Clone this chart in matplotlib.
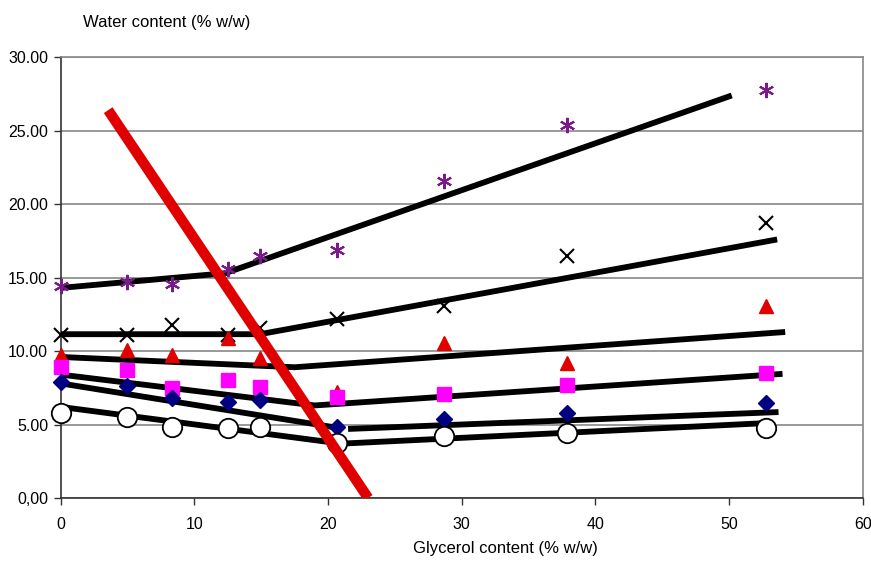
import matplotlib.pyplot as plt
from matplotlib.ticker import FixedLocator

plt.rcParams['font.family'] = ['Liberation Sans', 'DejaVu Sans']

# glycerol content of the samples (% w/w)
glycerol = [0, 4.95, 8.3, 12.5, 14.9, 20.7, 28.7, 37.9, 52.8]

# water content (% w/w) for each series
water_star = [14.4, 14.7, 14.6, 15.6, 16.5, 16.9, 21.6, 25.4, 27.8]
water_cross = [11.1, 11.1, 11.8, 11.1, 11.6, 12.2, 13.1, 16.5, 18.7]
water_triangle = [9.7, 10.1, 9.7, 10.9, 9.5, 7.2, 10.55, 9.2, 13.1]
water_square = [8.9, 8.7, 7.5, 8.0, 7.55, 6.9, 7.1, 7.7, 8.5]
water_diamond = [7.9, 7.6, 6.8, 6.55, 6.65, 4.85, 5.4, 5.8, 6.45]
water_circle = [5.8, 5.5, 4.8, 4.75, 4.8, 3.75, 4.2, 4.4, 4.75]

# two-segment fitted lines (x breakpoints, y values)
fit_star_x, fit_star_y = [0, 12.3, 50.2], [14.3, 15.3, 27.4]
fit_cross_x, fit_cross_y = [0, 14.9, 53.6], [11.15, 11.15, 17.6]
fit_triangle_x, fit_triangle_y = [0, 17.5, 54.2], [9.6, 8.9, 11.3]
fit_square_x, fit_square_y = [0, 19.0, 54.0], [8.4, 6.3, 8.45]
fit_diamond1_x, fit_diamond1_y = [0, 20.9], [7.8, 4.75]
fit_diamond2_x, fit_diamond2_y = [21.5, 53.7], [4.7, 5.85]
fit_circle_x, fit_circle_y = [0, 21.0, 52.8], [6.2, 3.7, 5.1]

# boundary line (red)
bound_x = [3.55, 23.0]
bound_y = [26.4, 0.0]

y_ticks = [0, 5, 10, 15, 20, 25, 30]
y_tick_labels = ['0,00', '5.00', '10.00', '15.00', '20.00', '25.00', '30.00']
x_ticks = [0, 10, 20, 30, 40, 50, 60]

fig = plt.figure(figsize=(8.71, 5.61), dpi=100)
ax = fig.add_axes([0.0697, 0.1123, 0.9208, 0.7856])

for fx, fy in [(fit_star_x, fit_star_y), (fit_cross_x, fit_cross_y),
               (fit_triangle_x, fit_triangle_y), (fit_square_x, fit_square_y),
               (fit_diamond1_x, fit_diamond1_y), (fit_diamond2_x, fit_diamond2_y),
               (fit_circle_x, fit_circle_y)]:
    ax.plot(fx, fy, '-', color='black', lw=4.2, solid_capstyle='butt', zorder=3)

ax.plot(glycerol, water_star, ls='none', marker=(6, 2, 0), ms=11, mew=1.5,
        color='#7a1a8a', zorder=4, clip_on=False)
ax.plot(glycerol, water_cross, ls='none', marker='x', ms=10, mew=1.5,
        color='black', zorder=4, clip_on=False)
ax.plot(glycerol, water_triangle, ls='none', marker='^', ms=10,
        color='#e00000', zorder=4, clip_on=False)
ax.plot(glycerol, water_square, ls='none', marker='s', ms=10,
        color='#ff00ff', zorder=4, clip_on=False)
ax.plot(glycerol, water_diamond, ls='none', marker='D', ms=8,
        color='#000080', zorder=4, clip_on=False)
ax.plot(glycerol, water_circle, ls='none', marker='o', ms=14, mew=1.3,
        mfc='white', mec='black', zorder=5, clip_on=False)

ax.plot(bound_x, bound_y, '-', color='#e00000', lw=7.5, solid_capstyle='butt', zorder=6)

ax.set_xlim(0, 60)
ax.set_ylim(0, 30)
ax.yaxis.set_major_locator(FixedLocator(y_ticks))
ax.set_yticklabels(y_tick_labels)
ax.xaxis.set_major_locator(FixedLocator(x_ticks))
ax.set_xticklabels([str(t) for t in x_ticks])
ax.tick_params(axis='both', labelsize=11.5, length=5, width=1, color='#333333',
               direction='out')
ax.tick_params(axis='x', pad=9)
ax.tick_params(axis='y', pad=4)

ax.grid(axis='y', color='#888888', lw=1.2)
ax.set_axisbelow(True)
for side in ['left', 'bottom']:
    ax.spines[side].set_color('#333333')
    ax.spines[side].set_linewidth(1.2)
for side in ['right', 'top']:
    ax.spines[side].set_color('#888888')
    ax.spines[side].set_linewidth(1.2)

fig.text(83 / 871, 1 - 23 / 561, 'Water content (% w/w)', fontsize=12,
         ha='left', va='center')
fig.text(505 / 871, 1 - 549 / 561, 'Glycerol content (% w/w)', fontsize=12,
         ha='center', va='center')

fig.savefig('out.png', dpi=100)
